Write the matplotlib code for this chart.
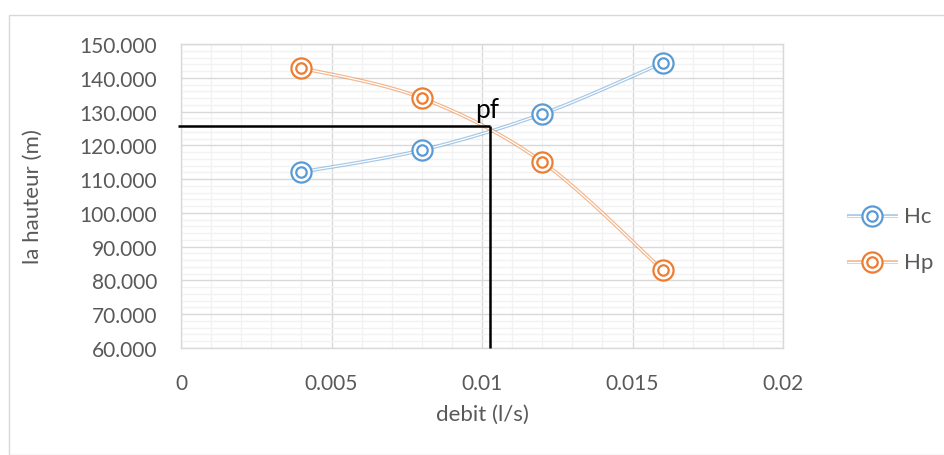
import numpy as np
import matplotlib.pyplot as plt
from matplotlib.ticker import MultipleLocator, FixedLocator, FuncFormatter
from matplotlib.patches import Rectangle

# données des courbes
debit = [0.004, 0.008, 0.012, 0.016]
hc = [112.1, 118.6, 129.3, 144.4]
hp = [142.9, 134.0, 115.1, 83.1]
series_names = ["Hc", "Hp"]

# point de fonctionnement
pf_q = 0.01028
pf_h = 125.6

x_ticks = [0, 0.005, 0.01, 0.015, 0.02]
x_tick_labels = ["0", "0.005", "0.01", "0.015", "0.02"]

BLUE = "#5B9BD5"
ORANGE = "#ED7D31"
GRAY_TXT = "#595959"

plt.rcParams['font.family'] = ['Lato', 'DejaVu Sans']

fig = plt.figure(figsize=(9.44, 4.56), dpi=100)
W, H = 944, 456
# cadre du graphique
fig.patches.append(Rectangle((9 / W, 0), 1, 1 - 16 / H, transform=fig.transFigure,
                             fill=False, edgecolor="#D9D9D9", lw=1.0))

ax = fig.add_axes([181 / W, 1 - 349 / H, 602 / W, 304 / H])
ax.set_xlim(0, 0.02)
ax.set_ylim(60, 150)

ax.xaxis.set_major_locator(FixedLocator(x_ticks))
ax.xaxis.set_minor_locator(MultipleLocator(0.001))
ax.yaxis.set_major_locator(MultipleLocator(10))
ax.yaxis.set_minor_locator(MultipleLocator(2))
ax.set_xticklabels(x_tick_labels)
ax.yaxis.set_major_formatter(FuncFormatter(lambda v, p: f"{v:.3f}"))

ax.grid(which="major", color="#D9D9D9", lw=1.0, zorder=0)
ax.grid(which="minor", color="#F2F2F2", lw=1.0, zorder=0)
ax.tick_params(which="both", length=0)
ax.tick_params(axis="y", pad=17, labelsize=15, labelcolor=GRAY_TXT)
ax.tick_params(axis="x", pad=18, labelsize=15, labelcolor=GRAY_TXT)
for s in ax.spines.values():
    s.set_color("#D9D9D9")
    s.set_linewidth(1.0)
ax.set_axisbelow(True)


def smooth(xs, ys, n=40):
    # courbe lissée (Bézier type Catmull-Rom) calculée en coordonnées écran
    px = np.array(xs) / 0.02 * 602
    py = (np.array(ys) - 60) / 90 * 304
    pts = np.column_stack([px, py])
    out = []
    for i in range(len(pts) - 1):
        p0 = pts[i - 1] if i > 0 else pts[i]
        p1, p2 = pts[i], pts[i + 1]
        p3 = pts[i + 2] if i + 2 < len(pts) else pts[i + 1]
        c1 = p1 + (p2 - p0) / 6
        c2 = p2 - (p3 - p1) / 6
        t = np.linspace(0, 1, n)[:, None]
        seg = ((1 - t) ** 3) * p1 + 3 * ((1 - t) ** 2) * t * c1 + 3 * (1 - t) * t ** 2 * c2 + t ** 3 * p2
        out.append(seg if i == 0 else seg[1:])
    out = np.vstack(out)
    return out[:, 0] / 602 * 0.02, out[:, 1] / 304 * 90 + 60


def double_line(ax, x, y, color, **kw):
    ax.plot(x, y, color=color, lw=2.6, alpha=0.55, solid_capstyle="butt", **kw)
    ax.plot(x, y, color="white", lw=0.9, solid_capstyle="butt", **kw)


def ring_markers(ax, x, y, color, z):
    ax.plot(x, y, ls="none", marker="o", ms=14.5, mfc="white", mec=color, mew=1.6, zorder=z)
    ax.plot(x, y, ls="none", marker="o", ms=7.5, mfc="white", mec=color, mew=1.6, zorder=z)


for vals, col, z in [(hc, BLUE, 3), (hp, ORANGE, 4)]:
    sx, sy = smooth(debit, vals)
    double_line(ax, sx, sy, col, zorder=z)
    ring_markers(ax, debit, vals, col, z + 2)

# tracé du point de fonctionnement
ax.plot([-0.0001, pf_q], [pf_h, pf_h], color="black", lw=1.8, zorder=8, clip_on=False,
        solid_capstyle="butt")
ax.plot([pf_q, pf_q], [60, pf_h], color="black", lw=1.8, zorder=8, clip_on=False,
        solid_capstyle="butt")
ax.text(pf_q - 0.0001, pf_h + 1.3, "pf", fontsize=19, color="black", ha="center",
        va="bottom", zorder=9)

fig.text(482 / W, 1 - 415 / H, "debit (l/s)", fontsize=16, color=GRAY_TXT,
         ha="center", va="center")
fig.text(33 / W, 1 - 197 / H, "la hauteur (m)", fontsize=16, color=GRAY_TXT,
         ha="center", va="center", rotation=90)

# légende dessinée à la main
for name, col, yy in [(series_names[0], BLUE, 217), (series_names[1], ORANGE, 263)]:
    fy = 1 - yy / H
    lx = np.array([847, 898]) / W
    fig.lines.append(plt.Line2D(lx, [fy, fy], transform=fig.transFigure, color=col,
                                lw=2.6, alpha=0.55, solid_capstyle="butt"))
    fig.lines.append(plt.Line2D(lx, [fy, fy], transform=fig.transFigure, color="white",
                                lw=0.9, solid_capstyle="butt"))
    for ms in (14.5, 7.5):
        fig.lines.append(plt.Line2D([872 / W], [fy], transform=fig.transFigure, ls="none",
                                    marker="o", ms=ms, mfc="white", mec=col, mew=1.6))
    fig.text(904 / W, fy, name, fontsize=16, color=GRAY_TXT, va="center", ha="left")

fig.savefig("out.png", dpi=100)
